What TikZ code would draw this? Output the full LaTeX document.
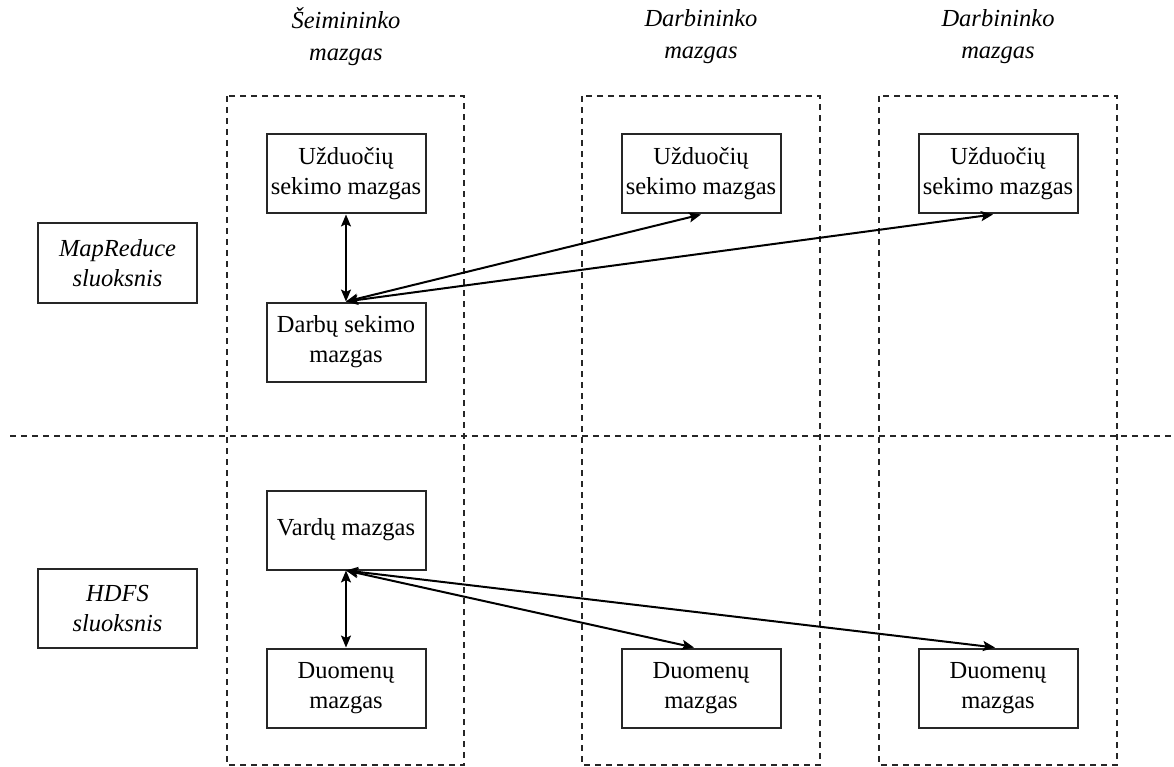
\documentclass[tikz,border=0pt]{standalone}
\usepackage{fontspec}
\setmainfont{Liberation Serif}
\usetikzlibrary{arrows.meta}
\begin{document}
\begin{tikzpicture}[x=1pt,y=-1pt,
  box/.style={draw=black!85,line width=2pt,minimum width=159pt,minimum height=79pt,
    align=center,inner sep=2pt,font=\fontsize{24.5}{30}\selectfont},
  title/.style={align=center,font=\fontsize{24.5}{32}\selectfont\itshape},
  zone/.style={draw=black!85,line width=1.8pt,dash pattern=on 6pt off 5pt},
  link/.style={line width=2pt,{Stealth[length=12pt,width=10pt,inset=2.5pt]}-{Stealth[length=12pt,width=10pt,inset=2.5pt]}}]
\useasboundingbox (0,0) rectangle (1174,767);

% node columns and layer divider
\draw[zone] (227,96) rectangle (464,765);
\draw[zone] (582,96) rectangle (820,765);
\draw[zone] (879,96) rectangle (1117,765);
\draw[zone] (10,436) -- (1174,436);

% column titles
\node[title] (t1) at (346,37) {Šeimininko\\mazgas};
\node[title] (t2) at (701,37) {Darbininko\\mazgas};
\node[title] (t3) at (998,37) {Darbininko\\mazgas};

% layer labels
\node[box,font=\fontsize{24.5}{30}\selectfont\itshape] (mr) at (117.5,263) {MapReduce\\sluoksnis};
\node[box,font=\fontsize{24.5}{30}\selectfont\itshape] (hdfs) at (117.5,608.5) {HDFS\\sluoksnis};

% MapReduce layer
\node[box] (uzd1) at (346,174) {Užduočių\\sekimo mazgas};
\node[box] (uzd2) at (701,174) {Užduočių\\sekimo mazgas};
\node[box] (uzd3) at (998,174) {Užduočių\\sekimo mazgas};
\node[box] (darbu) at (346,342) {Darbų sekimo\\mazgas};

% HDFS layer
\node[box] (vardu) at (346,530) {Vardų mazgas};
\node[box] (duom1) at (346,688) {Duomenų\\mazgas};
\node[box] (duom2) at (701,688) {Duomenų\\mazgas};
\node[box] (duom3) at (998,688) {Duomenų\\mazgas};

% connections
\draw[link] (uzd1.south) -- (darbu.north);
\draw[link] (darbu.north) -- (uzd2.south);
\draw[link] (darbu.north) -- ([xshift=-5pt]uzd3.south);
\draw[link] (vardu.south) -- (duom1.north);
\draw[link] (vardu.south) -- ([xshift=-7pt]duom2.north);
\draw[link] (vardu.south) -- ([xshift=-3pt]duom3.north);
\end{tikzpicture}
\end{document}
